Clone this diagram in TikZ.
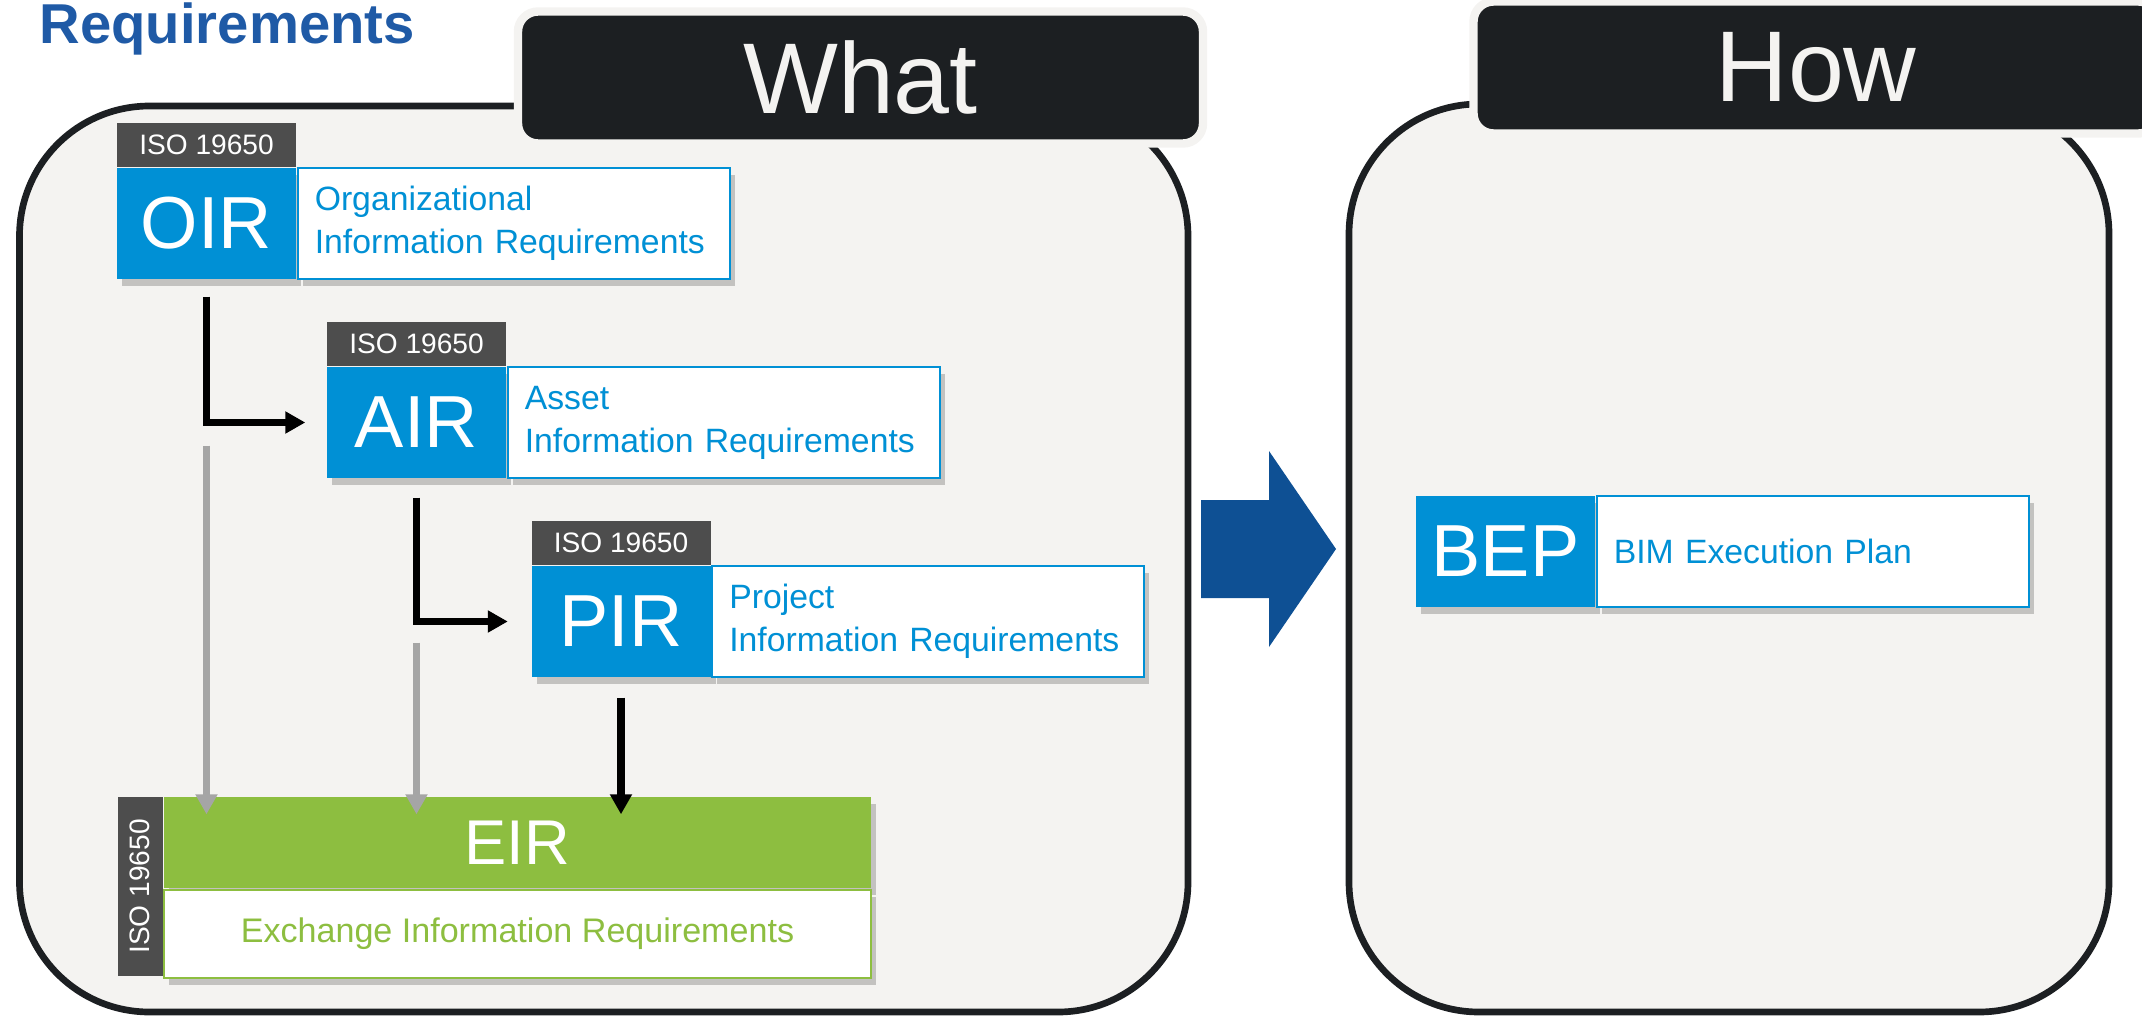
\documentclass[tikz,border=0pt]{standalone}
\usepackage{fontspec}
\setmainfont{Liberation Sans}
\usepackage{xcolor}
\usepackage{tikz}
\usetikzlibrary{arrows.meta, positioning, calc, shadows}
\definecolor{boxfill}{RGB}{244,243,241}
\definecolor{tabdark}{RGB}{28,31,34}
\definecolor{isoblue}{RGB}{0,144,213}
\definecolor{taggrey}{RGB}{77,77,77}
\definecolor{eirgreen}{RGB}{141,190,64}
\definecolor{flowblue}{RGB}{14,80,148}
\definecolor{reqblue}{RGB}{31,90,166}
\definecolor{arrowgrey}{RGB}{165,165,165}
\tikzstyle{shadowed} = [drop shadow={shadow xshift=0.05cm, shadow yshift=-0.07cm, fill=black, opacity=0.2}]
\tikzstyle{frame} = [fill=boxfill, draw=tabdark, line width=1.9pt, rounded corners=1.3cm]
\tikzstyle{headtab} = [rectangle, rounded corners=0.2cm, minimum width=6.85cm, minimum height=1.32cm, fill=tabdark, draw=boxfill, line width=2.4pt, text=boxfill, font=\fontsize{28.6}{30}\selectfont]
\tikzstyle{abbr} = [rectangle, minimum width=1.79cm, minimum height=1.11cm, inner sep=0pt, fill=isoblue, text=white, font=\fontsize{21}{21}\selectfont, shadowed]
\tikzstyle{desc} = [rectangle, minimum width=4.32cm, minimum height=1.11cm, text width=3.98cm, inner sep=0.17cm, align=left, fill=white, draw=isoblue, line width=0.6pt, text=isoblue, font=\fontsize{9.6}{12.2}\selectfont, shadowed]
\tikzstyle{tag} = [rectangle, minimum width=1.79cm, minimum height=0.44cm, inner sep=0pt, fill=taggrey, text=white, font=\fontsize{8}{8}\selectfont]
\tikzstyle{eirhead} = [rectangle, minimum width=7.07cm, minimum height=0.91cm, inner sep=0pt, fill=eirgreen, text=white, font=\fontsize{18}{18}\selectfont, shadowed]
\tikzstyle{eirbody} = [rectangle, minimum width=7.07cm, minimum height=0.88cm, inner sep=0pt, fill=white, draw=eirgreen, line width=0.6pt, text=eirgreen, font=\fontsize{9.7}{12}\selectfont, shadowed]
\tikzstyle{arrow} = [line width=2pt, -{Triangle[length=2mm, width=2.1mm]}]
\tikzstyle{grayarrow} = [arrow, draw=arrowgrey]

\begin{document}
\begin{tikzpicture}
        \useasboundingbox (0,0) rectangle (21.42,-10.19);
        \clip (0,0) rectangle (21.42,-10.19);

        % Frames
        \draw [frame] (0.195,-1.06) rectangle (11.88,-10.12);
        \draw [frame] (13.49,-1.04) rectangle (21.09,-10.12);
        \node (req) [anchor=base west, inner sep=0pt, text=reqblue, font=\fontsize{16}{16}\selectfont\bfseries] at (0.39,-0.43) {Requirements};
        \node (what) [headtab] at (8.605,-0.775) {What};
        \node (how) [headtab] at (18.16,-0.675) {How};

        % Flow arrow
        \fill [flowblue] (12.01,-5.00) -- (12.69,-5.00) -- (12.69,-4.51) -- (13.36,-5.49) -- (12.69,-6.47) -- (12.69,-5.98) -- (12.01,-5.98) -- cycle;

        % What
        \node (oir) [abbr] at (2.065,-2.235) {OIR};
        \node (oirdesc) [desc, right=0pt of oir] {Organizational\\Information Requirements};
        \node (oirtag) [tag, above=0pt of oir] {ISO 19650};

        \node (air) [abbr] at (4.165,-4.225) {AIR};
        \node (airdesc) [desc, right=0pt of air] {Asset\\Information Requirements};
        \node (airtag) [tag, above=0pt of air] {ISO 19650};

        \node (pir) [abbr] at (6.21,-6.215) {PIR};
        \node (pirdesc) [desc, right=0pt of pir] {Project\\Information Requirements};
        \node (pirtag) [tag, above=0pt of pir] {ISO 19650};

        \node (eir) [eirhead] at (5.175,-8.425) {EIR};
        \node (eirdesc) [eirbody, below=0pt of eir] {Exchange Information Requirements};
        \node (eirtag) [tag, rotate=90, anchor=south east, minimum height=0.45cm] at (eir.north west) {ISO 19650};

        % How
        \node (bep) [abbr] at (15.055,-5.515) {BEP};
        \node (bepdesc) [desc, right=0pt of bep] {BIM Execution Plan};

        % Arrows
        \draw [arrow] ([yshift=-0.17cm]oir.south) |- ([xshift=-0.21cm]air.west);
        \draw [arrow] ([yshift=-0.19cm]air.south) |- ([xshift=-0.23cm]pir.west);
        \draw [arrow] ([yshift=-0.2cm]pir.south) -- ([yshift=-0.18cm]pir.south |- eir.north);
        \draw [grayarrow] ([yshift=-0.23cm]oir.south |- air.west) -- ([yshift=-0.18cm]oir.south |- eir.north);
        \draw [grayarrow] ([yshift=-0.21cm]air.south |- pir.west) -- ([yshift=-0.18cm]air.south |- eir.north);
      \end{tikzpicture}
\end{document}
